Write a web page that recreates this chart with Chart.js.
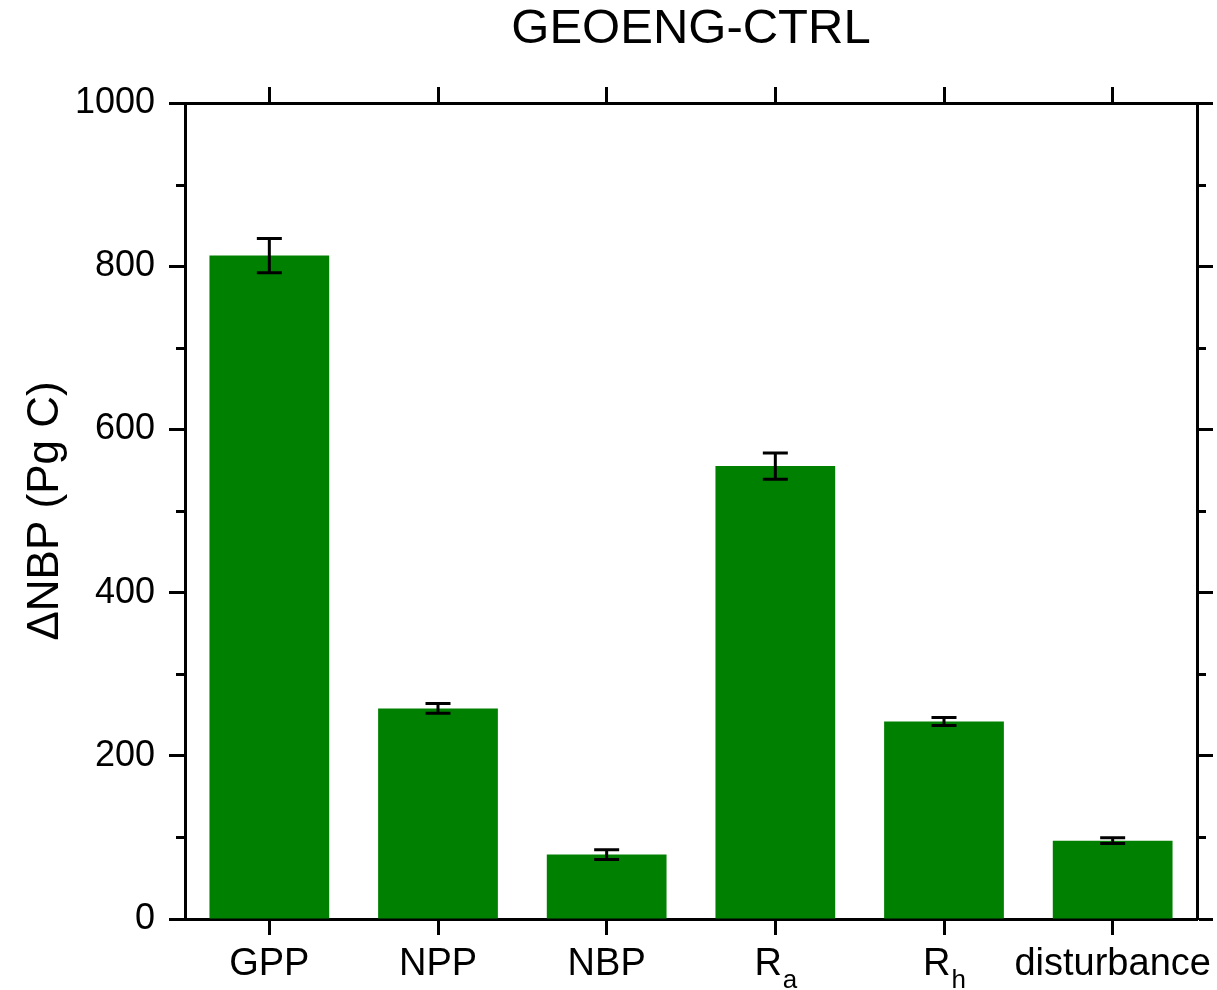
<!DOCTYPE html>
<html>
<head>
<meta charset="utf-8">
<title>GEOENG-CTRL</title>
<script src="https://cdn.jsdelivr.net/npm/chart.js@4/dist/chart.umd.min.js"></script>
<style>
  html, body { margin: 0; padding: 0; background: #fff; }
  #wrap { width: 1217px; height: 990px; position: relative; }
</style>
</head>
<body>
<div id="wrap"><canvas id="chart"></canvas></div>
<script>
// Carbon flux differences, GEOENG minus CTRL
const categories = ['GPP', 'NPP', 'NBP', 'Ra', 'Rh', 'disturbance'];
const labelMain  = ['GPP', 'NPP', 'NBP', 'R', 'R', 'disturbance'];
const labelSub   = ['', '', '', 'a', 'h', ''];
const values     = [813, 258, 79, 555, 242, 96];
const errors     = [21, 6, 6, 16, 5, 3.5];
const majorStep  = 200;
const minorTicks = [100, 300, 500, 700, 900];

const FONT = '"Liberation Sans", Arial, Helvetica, sans-serif';
const AXIS_W = 3;
const MAJOR_LEN = 16;
const MINOR_LEN = 9;

// Error bars drawn at each bar's centre from the value axis
const errorBarPlugin = {
  id: 'errorBars',
  afterDatasetsDraw(chart) {
    const ctx = chart.ctx;
    const y = chart.scales.y;
    const meta = chart.getDatasetMeta(0);
    ctx.save();
    ctx.strokeStyle = '#000';
    ctx.lineWidth = 3;
    meta.data.forEach((bar, i) => {
      const x = bar.x;
      const top = y.getPixelForValue(values[i] + errors[i]);
      const bot = y.getPixelForValue(values[i] - errors[i]);
      const cap = 12.5;
      ctx.beginPath();
      ctx.moveTo(x, top); ctx.lineTo(x, bot);
      ctx.moveTo(x - cap, top); ctx.lineTo(x + cap, top);
      ctx.moveTo(x - cap, bot); ctx.lineTo(x + cap, bot);
      ctx.stroke();
    });
    ctx.restore();
  }
};

// Short minor ticks on both value axes, outward
const minorTickPlugin = {
  id: 'minorTicks',
  afterDraw(chart) {
    const ctx = chart.ctx;
    const y = chart.scales.y;
    const { left, right } = chart.chartArea;
    ctx.save();
    ctx.strokeStyle = '#000';
    ctx.lineWidth = AXIS_W;
    minorTicks.forEach(v => {
      const py = Math.round(y.getPixelForValue(v)) + 0.5;
      ctx.beginPath();
      ctx.moveTo(left - MINOR_LEN, py); ctx.lineTo(left, py);
      ctx.moveTo(right, py); ctx.lineTo(right + MINOR_LEN, py);
      ctx.stroke();
    });
    ctx.restore();
  }
};

// Category names with subscripts under the bottom axis
const categoryLabelPlugin = {
  id: 'categoryLabels',
  afterDraw(chart) {
    const ctx = chart.ctx;
    const x = chart.scales.x;
    const base = chart.chartArea.bottom;
    const mainSize = 38, subSize = 26;
    ctx.save();
    ctx.fillStyle = '#000';
    ctx.textBaseline = 'alphabetic';
    ctx.textAlign = 'left';
    categories.forEach((c, i) => {
      const px = x.getPixelForValue(i);
      ctx.font = mainSize + 'px ' + FONT;
      const wMain = ctx.measureText(labelMain[i]).width;
      ctx.font = subSize + 'px ' + FONT;
      const wSub = labelSub[i] ? ctx.measureText(labelSub[i]).width : 0;
      const start = px - (wMain + wSub) / 2;
      ctx.font = mainSize + 'px ' + FONT;
      ctx.fillText(labelMain[i], start, base + 56);
      if (labelSub[i]) {
        ctx.font = subSize + 'px ' + FONT;
        ctx.fillText(labelSub[i], start + wMain + 1, base + 69);
      }
    });
    ctx.restore();
  }
};

const axisBorder = { display: true, color: '#000', width: AXIS_W };
const outerGrid = {
  drawOnChartArea: false,
  drawTicks: true,
  tickLength: MAJOR_LEN,
  tickWidth: AXIS_W,
  tickColor: '#000',
  color: '#000'
};

new Chart(document.getElementById('chart'), {
  type: 'bar',
  data: {
    labels: categories,
    datasets: [{
      data: values,
      backgroundColor: '#008000',
      borderWidth: 0,
      barPercentage: 0.71,
      categoryPercentage: 1.0
    }]
  },
  options: {
    responsive: true,
    maintainAspectRatio: false,
    animation: false,
    devicePixelRatio: 1,
    layout: { padding: 0 },
    plugins: {
      legend: { display: false },
      tooltip: { enabled: false }
    },
    scales: {
      x: {
        type: 'category',
        position: 'bottom',
        offset: true,
        border: axisBorder,
        grid: Object.assign({}, outerGrid, { offset: false }),
        ticks: { display: false },
        afterFit(s) { s.height = 71; }
      },
      x2: {
        type: 'category',
        labels: categories,
        position: 'top',
        offset: true,
        border: axisBorder,
        grid: Object.assign({}, outerGrid, { offset: false }),
        ticks: { display: false },
        title: {
          display: true,
          text: 'GEOENG-CTRL',
          color: '#000',
          font: { family: FONT, size: 49, weight: 'normal', lineHeight: 1.2 },
          padding: { top: 0, bottom: 0 }
        },
        afterFit(s) { s.height = 103; }
      },
      y: {
        position: 'left',
        min: 0,
        max: 1000,
        border: axisBorder,
        grid: outerGrid,
        ticks: {
          stepSize: majorStep,
          color: '#000',
          padding: 14,
          font: { family: FONT, size: 36 },
          callback: v => String(v)
        },
        title: {
          display: true,
          text: '\u0394NBP (Pg C)',
          color: '#000',
          font: { family: FONT, size: 44, lineHeight: 1.2 },
          padding: { top: 19, bottom: 0 }
        },
        afterFit(s) { s.width = 185; }
      },
      y2: {
        position: 'right',
        min: 0,
        max: 1000,
        border: axisBorder,
        grid: outerGrid,
        ticks: { stepSize: majorStep, display: false },
        afterFit(s) { s.width = 1217 - 1197; }
      }
    }
  },
  plugins: [errorBarPlugin, minorTickPlugin, categoryLabelPlugin]
});
</script>
</body>
</html>
